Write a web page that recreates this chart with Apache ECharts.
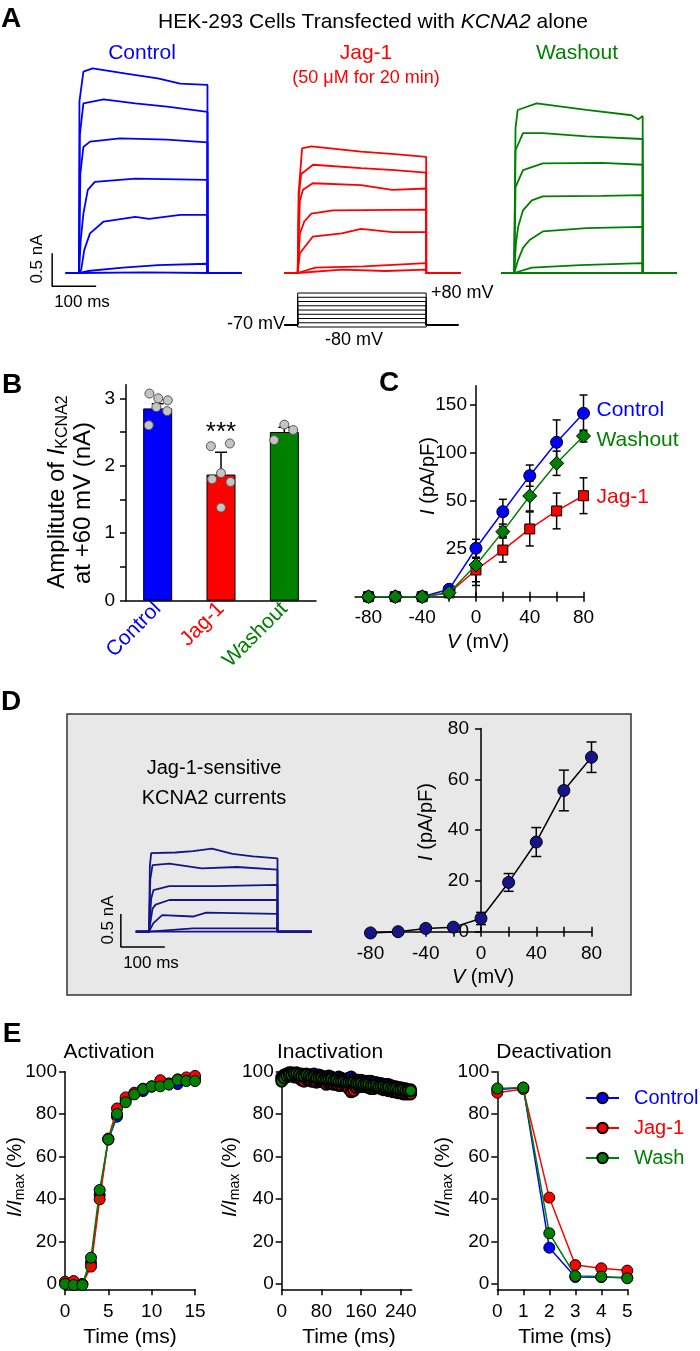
<!DOCTYPE html>
<html>
<head>
<meta charset="utf-8">
<script src="https://cdn.jsdelivr.net/npm/echarts@6.0.0/dist/echarts.min.js"></script>
<style>
html,body{margin:0;padding:0;background:#fff;}
#chart{width:700px;height:1351px;}
</style>
</head>
<body>
<div id="chart"></div>
<script>
/* ================= DATA ================= */
// Panel A / D : current traces, keypoints [time (ms), current (nA)] during the voltage step
const traceStart = -30, traceStop = 370, pulseEnd = 292;
const stepVoltages = [-80, -60, -40, -20, 0, 20, 40, 60, 80];
const holdingVoltage = -70;
const scaleBarAmp = 0.5;   // nA
const scaleBarTime = 100;  // ms

const tracesControl = [
  [[1, 2.6], [10, 3.05], [31, 3.1], [107, 3.02], [179, 2.95], [230, 2.87], [292, 2.85]],
  [[2, 2.1], [10, 2.57], [56, 2.63], [128, 2.57], [200, 2.52], [292, 2.44]],
  [[3, 1.5], [10, 1.91], [25, 1.99], [93, 2.04], [200, 2.02], [292, 1.98]],
  [[4, 0.5], [10, 0.9], [20, 1.26], [36, 1.38], [128, 1.43], [292, 1.41]],
  [[5, 0.05], [12, 0.35], [25, 0.6], [56, 0.78], [128, 0.85], [159, 0.82], [230, 0.88], [292, 0.88]],
  [[20, 0.03], [100, 0.08], [180, 0.12], [292, 0.14]],
  [[150, 0.01], [292, 0]]
];
const tracesJag = [
  [[2, 1.2], [10, 1.89], [31, 1.92], [144, 1.84], [220, 1.8], [292, 1.76]],
  [[3, 1.2], [8, 1.5], [35, 1.64], [144, 1.59], [220, 1.56], [292, 1.52]],
  [[5, 1.1], [12, 1.26], [34, 1.36], [144, 1.33], [215, 1.26], [292, 1.28]],
  [[5, 0.6], [15, 0.78], [31, 0.9], [80, 0.95], [292, 0.96]],
  [[5, 0.3], [34, 0.55], [100, 0.6], [144, 0.67], [215, 0.62], [292, 0.62]],
  [[40, 0.08], [150, 0.1], [292, 0.15]],
  [[100, 0.05], [200, 0.03], [292, 0.05]]
];
const tracesWash = [
  [[3, 2.2], [8, 2.47], [51, 2.57], [164, 2.47], [267, 2.39], [282, 2.33], [292, 2.38]],
  [[3, 1.86], [20, 2.12], [65, 2.12], [164, 2.07], [292, 2.03]],
  [[3, 1.3], [20, 1.56], [65, 1.66], [200, 1.67], [292, 1.64]],
  [[4, 0.45], [9, 0.7], [20, 0.95], [40, 1.1], [65, 1.16], [200, 1.17], [292, 1.18]],
  [[9, 0.2], [20, 0.38], [35, 0.5], [65, 0.63], [164, 0.68], [292, 0.7]],
  [[40, 0.08], [150, 0.12], [292, 0.15]],
  [[150, 0.0], [292, 0]]
];
const tracesSensitive = [
  [[2, 1.0], [5, 1.19], [60, 1.2], [100, 1.22], [143, 1.26], [190, 1.18], [236, 1.14], [292, 1.11]],
  [[3, 0.8], [8, 1.01], [46, 1.03], [120, 0.96], [200, 0.98], [292, 0.94]],
  [[5, 0.5], [10, 0.63], [46, 0.69], [150, 0.69], [292, 0.71]],
  [[8, 0.35], [15, 0.41], [46, 0.48], [150, 0.48], [292, 0.48]],
  [[10, 0.13], [30, 0.25], [100, 0.23], [130, 0.29], [292, 0.27]],
  [[100, 0.05], [292, 0.05]],
  [[150, 0.0], [292, 0]]
];

// Panel B : amplitude at +60 mV (nA)
const groups = ['Control', 'Jag-1', 'Washout'];
const ampMean = [2.85, 1.87, 2.50];
const ampSem = [0.07, 0.33, 0.07];
const ampCells = [
  [3.07, 3.0, 2.97, 2.87, 2.81, 2.60],
  [2.29, 2.33, 1.80, 1.89, 1.76, 1.38],
  [2.38, 2.61, 2.53]
];
const ampTicks = [0, 0.5, 1, 1.5, 2, 2.5, 3];
const ampTickLabels = [0, 1, 2, 3];

// Panel C : I-V (pA/pF)
const ivVoltage = [-80, -60, -40, -20, 0, 20, 40, 60, 80];
const ivControl = [0, 0, 0, 5.8, 37.9, 66.5, 94.7, 120.8, 143.5];
const ivControlSem = [0, 0, 0, 0, 7, 9.7, 8.3, 17.5, 14.3];
const ivWash = [0, 0, 0, 3.1, 24.8, 50.9, 78.8, 104.4, 125.7];
const ivWashSem = [0, 0, 0, 0, 16, 4, 11.7, 9.5, 4.6];
const ivJag = [0, 0, 0, 3.0, 20.9, 36.5, 53.0, 67.1, 79.0];
const ivJagSem = [0, 0, 0, 0, 9.2, 9.4, 13.3, 14, 14];
const ivSeriesNames = ['Control', 'Washout', 'Jag-1'];
const ivTickValues = [37.5, 75, 112.5, 150];
const ivTickLabels = ['25', '50', '100', '150'];
const vTicks = [-80, -60, -40, -20, 0, 20, 40, 60, 80];
const vLabels = [-80, -40, 0, 40, 80];

// Panel D : Jag-1-sensitive I-V (pA/pF)
const ivSensitive = [-0.5, 0, 1.3, 1.8, 5.2, 19.4, 35.3, 55.6, 68.7];
const ivSensitiveSem = [0, 0, 0, 0, 2.4, 3.5, 5.7, 8, 6];
const dTicksY = [0, 20, 40, 60, 80];

// Panel E : kinetics (% of Imax)
const actTime = [0, 1, 2, 3, 4, 5, 6, 7, 8, 9, 10, 11, 12, 13, 14, 15];
const actControl = [0.5, 0, 0, 10, 42, 68, 78.8, 86.5, 89.5, 90.9, 93, 94.5, 94, 94.2, 96, 96.5];
const actJag = [1.1, 1.4, 0, 8.2, 39.9, 68.5, 82.7, 87.9, 90.1, 92, 93, 96, 94.5, 96.4, 97.3, 98];
const actWash = [0, -0.5, -0.5, 12.4, 44.3, 68.1, 80.1, 85.6, 89.3, 91.8, 93.1, 93.1, 94, 96.1, 95.6, 95.6];
const actTicks = [0, 5, 10, 15];

const inactTime = [0, 5, 10, 15, 20, 25, 30, 35, 40, 45, 50, 55, 60, 65, 70, 75, 80, 85, 90, 95, 100, 105, 110, 115, 120, 125, 130,
  135, 140, 145, 150, 155, 160, 165, 170, 175, 180, 185, 190, 195, 200, 205, 210, 215, 220, 225, 230, 235, 240, 245, 250, 255, 260];
const inactControl = [97.5, 98.5, 99, 99.5, 99.5, 99, 99.5, 99, 99, 98.5, 99, 98.5, 98.5, 99, 98, 98.5, 98, 97.5, 97.5, 98, 97.5, 97, 97, 97.5, 97, 96.5, 96.5,
  97, 97.5, 96.5, 96, 96, 96, 95.5, 95.5, 95.5, 95.5, 95, 95, 94.5, 94.5, 94, 94, 94, 93.5, 93, 93, 92.5, 92.5, 92, 92, 91.5, 91.5];
const inactJag = [96.5, 97, 97.5, 98, 98, 97.5, 97.5, 97, 96, 95.5, 96.5, 96, 95.5, 95.5, 95, 95.5, 95.5, 95, 94, 94.5, 94.5, 94, 94, 93.5, 93.5, 94, 94,
  92, 90.5, 91, 92.5, 93, 93, 93, 93, 92.5, 92, 92, 92.5, 92.5, 92, 91.5, 91.5, 91, 91, 90.5, 90.5, 90, 90, 89.5, 89.5, 89.5, 89.5];
const inactWash = [95.5, 97, 98, 98.5, 98.5, 99, 99, 98.5, 98, 98, 98.5, 98, 97.5, 97.5, 97, 97, 97, 96.5, 96.5, 96.5, 96.5, 96, 96, 95.5, 95.5, 95.5, 95,
  95, 95, 95, 94.5, 94.5, 94.5, 94, 94, 94, 93.5, 93.5, 93.5, 93, 93, 93, 92.5, 92.5, 92, 92, 92, 91.5, 91.5, 91.5, 91, 91, 91];
const inactTicks = [0, 80, 160, 240];

const deactTime = [0, 1, 2, 3, 4, 5];
const deactControl = [91.5, 92.5, 17.1, 3.3, 3.2, 3.0];
const deactJag = [90.1, 91.8, 40.7, 8.9, 7.4, 6.3];
const deactWash = [92.1, 92.5, 23.9, 3.8, 3.5, 2.7];
const deactTicks = [0, 1, 2, 3, 4, 5];
const legendNames = ['Control', 'Jag-1', 'Wash'];
const eYTicks = [0, 20, 40, 60, 80, 100];

/* ================= STYLE / LAYOUT ================= */
const FONT = '"Liberation Sans", Arial, Helvetica, sans-serif';
const BLUE = '#0000ff', RED = '#ff0000', GREEN = '#008000', NAVY = '#15158a';
const condColors = [BLUE, RED, GREEN];
const AX = { color: '#000', width: 1.5 };
const dotOffsets = [
  [-0.13, 0.01, 0.16, -0.02, 0.15, -0.14],
  [-0.16, 0.14, -0.14, 0, 0.15, 0],
  [-0.16, 0, 0.14]
];

const grids = [], xAxes = [], yAxes = [], series = [], graphics = [];
function addGrid(left, top, width, height) { grids.push({ left, top, width, height }); return grids.length - 1; }
function addX(c) { xAxes.push(c); return xAxes.length - 1; }
function addY(c) { yAxes.push(c); return yAxes.length - 1; }

function buildTrace(kp) {
  return [[traceStart, 0], [0, 0]].concat(kp, [[pulseEnd, 0], [traceStop, 0]]);
}
function tracePanel(grid, xmin, ymin, ymax, traces, color) {
  const gi = addGrid(grid[0], grid[1], grid[2], grid[3]);
  const xi = addX({ gridIndex: gi, type: 'value', min: xmin, max: traceStop, show: false });
  const yi = addY({ gridIndex: gi, type: 'value', min: ymin, max: ymax, show: false });
  traces.forEach(kp => series.push({
    type: 'line', xAxisIndex: xi, yAxisIndex: yi, data: buildTrace(kp),
    symbol: 'none', lineStyle: { color, width: 1.8 }, silent: true, clip: false, z: 2
  }));
  return { xi, yi };
}
function scaleBar(ax, t0, i0) {
  series.push({
    type: 'line', xAxisIndex: ax.xi, yAxisIndex: ax.yi, symbol: 'none', clip: false, silent: true,
    data: [[t0, i0 + scaleBarAmp], [t0, i0], [t0 + scaleBarTime, i0]],
    lineStyle: { color: '#000', width: 1.5 }
  });
}
function errRender(capHalf, oneSided) {
  return function (params, api) {
    const x = api.value(0), m = api.value(1), e = api.value(2);
    if (!e) return null;
    const top = api.coord([x, m + e]);
    const bot = api.coord([x, oneSided ? m : m - e]);
    const st = { stroke: '#000', lineWidth: 1.5 };
    const ch = [
      { type: 'line', shape: { x1: top[0], y1: top[1], x2: bot[0], y2: bot[1] }, style: st },
      { type: 'line', shape: { x1: top[0] - capHalf, y1: top[1], x2: top[0] + capHalf, y2: top[1] }, style: st }
    ];
    if (!oneSided) ch.push({ type: 'line', shape: { x1: bot[0] - capHalf, y1: bot[1], x2: bot[0] + capHalf, y2: bot[1] }, style: st });
    return { type: 'group', children: ch };
  };
}
function txt(x, y, text, o) {
  o = o || {};
  const style = {
    text, fill: o.color || '#000', fontSize: o.size || 20, fontFamily: FONT,
    fontWeight: o.weight || 'normal', fontStyle: o.italic ? 'italic' : 'normal',
    align: o.align || 'center', verticalAlign: 'middle'
  };
  if (o.rich) style.rich = o.rich;
  graphics.push({ type: 'text', x, y, rotation: o.rot || 0, z: 100, style });
}
function richSet(size, subSize, lh) {
  return {
    n: { fontSize: size, fontFamily: FONT, lineHeight: lh, verticalAlign: 'middle', fill: '#000' },
    i: { fontSize: size, fontFamily: FONT, fontStyle: 'italic', lineHeight: lh, verticalAlign: 'middle', fill: '#000' },
    s: { fontSize: subSize, fontFamily: FONT, lineHeight: subSize, verticalAlign: 'bottom', fill: '#000' }
  };
}

/* ---------- Panel A ---------- */
const aCtrl = tracePanel([48.2, 61.8, 193.6, 227.7], -70, -0.25, 3.2, tracesControl, BLUE);
scaleBar(aCtrl, -61, -0.2);
tracePanel([284.5, 61.8, 176, 227.7], traceStart, -0.25, 3.2, tracesJag, RED);
tracePanel([501, 61.8, 176, 227.7], traceStart, -0.25, 3.2, tracesWash, GREEN);

// voltage protocol
(function () {
  const gi = addGrid(284.5, 290.9, 176, 38.25);
  const xi = addX({ gridIndex: gi, type: 'value', min: traceStart, max: traceStop, show: false });
  const yi = addY({ gridIndex: gi, type: 'value', min: -90, max: 90, show: false });
  stepVoltages.forEach(v => series.push({
    type: 'line', xAxisIndex: xi, yAxisIndex: yi, symbol: 'none', silent: true, clip: false,
    data: [[traceStart, holdingVoltage], [0, holdingVoltage], [0, v], [pulseEnd, v], [pulseEnd, holdingVoltage], [traceStop - 5, holdingVoltage]],
    lineStyle: { color: '#000', width: 1 }
  }));
})();

txt(11, 19, 'A', { size: 28, weight: 'bold' });
txt(373, 22, '{n|HEK-293 Cells Transfected with }{i|KCNA2}{n| alone}', { rich: richSet(21, 14, 24) });
txt(142, 53, 'Control', { color: BLUE, size: 21 });
txt(366, 53, 'Jag-1', { color: RED, size: 21 });
txt(366, 78, '(50 \u03bcM for 20 min)', { color: RED, size: 18 });
txt(577, 53, 'Washout', { color: GREEN, size: 21 });
txt(37, 259, '0.5 nA', { size: 17, rot: Math.PI / 2 });
txt(82, 302, '100 ms', { size: 17 });
txt(431, 293, '+80 mV', { size: 18, align: 'left' });
txt(285, 324, '-70 mV', { size: 18, align: 'right' });
txt(354, 340, '-80 mV', { size: 18 });

/* ---------- Panel B ---------- */
(function () {
  const gi = addGrid(126, 384.8, 190, 215.9);
  const xc = addX({
    gridIndex: gi, type: 'category', data: groups,
    axisLine: { show: true, lineStyle: AX }, axisTick: { show: false },
    axisLabel: { rotate: 45, fontSize: 21, margin: 5, color: (v) => condColors[groups.indexOf(v)] }
  });
  const xv = addX({ gridIndex: gi, type: 'value', min: -0.5, max: 2.5, show: false });
  const yi = addY({
    gridIndex: gi, type: 'value', min: 0, max: 3.2,
    axisLine: { show: true, onZero: false, lineStyle: AX },
    axisTick: { show: true, customValues: ampTicks, length: 6, lineStyle: AX },
    axisLabel: { customValues: ampTickLabels, fontSize: 19, margin: 11, color: '#000' },
    splitLine: { show: false }
  });
  series.push({
    type: 'bar', xAxisIndex: xc, yAxisIndex: yi, barWidth: 29, z: 2,
    data: ampMean.map((v, i) => ({ value: v, itemStyle: { color: condColors[i], borderColor: '#000', borderWidth: 1 } }))
  });
  series.push({
    type: 'custom', xAxisIndex: xv, yAxisIndex: yi, z: 3, clip: false,
    renderItem: errRender(6, true), encode: { x: 0, y: 1 },
    data: ampMean.map((v, i) => [i, v, ampSem[i]])
  });
  const dots = [];
  ampCells.forEach((arr, g) => arr.forEach((v, k) => dots.push([g + dotOffsets[g][k], v])));
  series.push({
    type: 'scatter', xAxisIndex: xv, yAxisIndex: yi, z: 4, symbolSize: 9, data: dots,
    itemStyle: { color: '#c4c4c4', borderColor: '#555', borderWidth: 1, opacity: 1 }
  });
})();
txt(12, 385, 'B', { size: 28, weight: 'bold' });
txt(57, 492, '{n|Amplitute of }{i|I}{s|KCNA2}', { rot: Math.PI / 2, rich: richSet(24, 16, 28) });
txt(83, 503, 'at +60 mV (nA)', { size: 24, rot: Math.PI / 2 });
txt(221, 433, '***', { size: 26 });

/* ---------- Panel C ---------- */
(function () {
  const gl = 355, gw = 228.5, xmin = -90, xmax = 80;
  const gi = addGrid(gl, 385.8, gw, 210.9);
  const xi = addX({
    gridIndex: gi, type: 'value', min: xmin, max: xmax,
    axisLine: { show: true, onZero: false, lineStyle: AX },
    axisTick: { show: true, customValues: vTicks, length: 5, lineStyle: AX },
    axisLabel: { customValues: vLabels, fontSize: 19, margin: 12, color: '#000' },
    splitLine: { show: false }
  });
  addX({
    gridIndex: gi, type: 'value', min: xmin, max: xmax, position: 'bottom',
    axisLine: { show: false, onZero: false }, axisLabel: { show: false }, splitLine: { show: false },
    axisTick: { show: true, inside: true, customValues: vTicks, length: 5, lineStyle: AX }
  });
  const yi = addY({
    gridIndex: gi, type: 'value', min: 0, max: 165,
    offset: -(0 - xmin) / (xmax - xmin) * gw,
    axisLine: { show: true, onZero: false, lineStyle: AX },
    axisTick: { show: true, customValues: ivTickValues, length: 6, lineStyle: AX },
    axisLabel: { customValues: ivTickValues, fontSize: 19, margin: 9, color: '#000',
      formatter: v => ivTickLabels[ivTickValues.indexOf(v)] },
    splitLine: { show: false }
  });
  const sets = [
    { name: ivSeriesNames[2], d: ivJag, e: ivJagSem, c: RED, sym: 'rect', size: 10, z: 3, off: [0, 1] },
    { name: ivSeriesNames[0], d: ivControl, e: ivControlSem, c: BLUE, sym: 'circle', size: 12, z: 4, off: [0, -3] },
    { name: ivSeriesNames[1], d: ivWash, e: ivWashSem, c: GREEN, sym: 'diamond', size: 14, z: 5, off: [0, 4] }
  ];
  sets.forEach(s => series.push({
    type: 'custom', xAxisIndex: xi, yAxisIndex: yi, z: 2, clip: false,
    renderItem: errRender(4, false), encode: { x: 0, y: 1 },
    data: ivVoltage.map((v, i) => [v, s.d[i], s.e[i]])
  }));
  sets.forEach(s => series.push({
    type: 'line', name: 'iv-' + s.name, xAxisIndex: xi, yAxisIndex: yi, z: s.z, clip: false,
    data: ivVoltage.map((v, i) => [v, s.d[i]]),
    symbol: s.sym, symbolSize: s.size, showAllSymbol: true,
    itemStyle: { color: s.c, borderColor: '#000', borderWidth: 1 },
    lineStyle: { color: s.c, width: 1.5 },
    endLabel: { show: true, formatter: () => s.name, color: s.c, fontSize: 21, distance: 13, offset: s.off }
  }));
})();
txt(389, 383, 'C', { size: 28, weight: 'bold' });
txt(428, 476, '{i|I}{n| (pA/pF)}', { rot: Math.PI / 2, rich: richSet(20, 14, 24) });
txt(478, 642, '{i|V}{n| (mV)}', { rich: richSet(20, 14, 24) });

/* ---------- Panel D ---------- */
graphics.push({ type: 'rect', z: -1, shape: { x: 67, y: 714, width: 564, height: 281 },
  style: { fill: '#e8e8e8', stroke: '#333', lineWidth: 1.5 } });
const dTr = tracePanel([118.2, 832.7, 193.6, 118.8], -70, -0.3, 1.5, tracesSensitive, NAVY);
scaleBar(dTr, -64, -0.23);
(function () {
  const gl = 370.5, gw = 221, xmin = -80, xmax = 80;
  const gi = addGrid(gl, 728.5, gw, 203.2);
  const xi = addX({
    gridIndex: gi, type: 'value', min: xmin, max: xmax,
    axisLine: { show: true, onZero: false, lineStyle: AX },
    axisTick: { show: true, customValues: vTicks, length: 5, lineStyle: AX },
    axisLabel: { customValues: vLabels, fontSize: 19, margin: 13, color: '#000' },
    splitLine: { show: false }
  });
  addX({
    gridIndex: gi, type: 'value', min: xmin, max: xmax, position: 'bottom',
    axisLine: { show: false, onZero: false }, axisLabel: { show: false }, splitLine: { show: false },
    axisTick: { show: true, inside: true, customValues: vTicks, length: 5, lineStyle: AX }
  });
  const yi = addY({
    gridIndex: gi, type: 'value', min: 0, max: 80,
    offset: -(0 - xmin) / (xmax - xmin) * gw,
    axisLine: { show: true, onZero: false, lineStyle: AX },
    axisTick: { show: true, customValues: dTicksY, length: 6, lineStyle: AX },
    axisLabel: { customValues: dTicksY, fontSize: 19, margin: 12, color: '#000' },
    splitLine: { show: false }
  });
  series.push({
    type: 'custom', xAxisIndex: xi, yAxisIndex: yi, z: 2, clip: false,
    renderItem: errRender(5, false), encode: { x: 0, y: 1 },
    data: ivVoltage.map((v, i) => [v, ivSensitive[i], ivSensitiveSem[i]])
  });
  series.push({
    type: 'line', name: 'sens', xAxisIndex: xi, yAxisIndex: yi, z: 3, clip: false,
    data: ivVoltage.map((v, i) => [v, ivSensitive[i]]),
    symbol: 'circle', symbolSize: 12, showAllSymbol: true,
    itemStyle: { color: NAVY, borderColor: '#000', borderWidth: 1 },
    lineStyle: { color: '#000', width: 1.5 }
  });
})();
txt(11, 702, 'D', { size: 28, weight: 'bold' });
txt(214, 768, 'Jag-1-sensitive', { size: 20 });
txt(214, 798, 'KCNA2 currents', { size: 20 });
txt(108, 920, '0.5 nA', { size: 17, rot: Math.PI / 2 });
txt(151, 963, '100 ms', { size: 17 });
txt(426, 822, '{i|I}{n| (pA/pF)}', { rot: Math.PI / 2, rich: richSet(20, 14, 24) });
txt(483, 977, '{i|V}{n| (mV)}', { rich: richSet(20, 14, 24) });

/* ---------- Panel E ---------- */
function ePanel(left, xmax, ticks, time, sets, prefix, border) {
  const gi = addGrid(left, 1071.7, 130, 217.6);
  const xi = addX({
    gridIndex: gi, type: 'value', min: 0, max: xmax,
    axisLine: { show: true, onZero: false, lineStyle: AX },
    axisTick: { show: true, customValues: ticks, length: 6, lineStyle: AX },
    axisLabel: { customValues: ticks, fontSize: 19, margin: 13, color: '#000' },
    splitLine: { show: false }
  });
  const yi = addY({
    gridIndex: gi, type: 'value', min: -2.5, max: 100,
    axisLine: { show: true, onZero: false, lineStyle: AX },
    axisTick: { show: true, customValues: eYTicks, length: 6, lineStyle: AX },
    axisLabel: { customValues: eYTicks, fontSize: 19, margin: 8, color: '#000' },
    splitLine: { show: false }
  });
  sets.forEach((d, k) => series.push({
    type: 'line', name: prefix ? prefix + legendNames[k] : legendNames[k],
    xAxisIndex: xi, yAxisIndex: yi, z: 3 + k, clip: false,
    data: time.map((t, i) => [t, d[i]]),
    symbol: 'circle', symbolSize: 11, showAllSymbol: true,
    itemStyle: { color: condColors[k], borderColor: '#000', borderWidth: border },
    lineStyle: { color: condColors[k], width: 1.5 }
  }));
}
ePanel(65, 15, actTicks, actTime, [actControl, actJag, actWash], 'act-', 1);
ePanel(281.7, 262, inactTicks, inactTime, [inactControl, inactJag, inactWash], 'inact-', 1.8);
ePanel(497.3, 5, deactTicks, deactTime, [deactControl, deactJag, deactWash], '', 1);

txt(12, 1034, 'E', { size: 28, weight: 'bold' });
txt(109, 1052, 'Activation', { size: 21 });
txt(330, 1052, 'Inactivation', { size: 21 });
txt(554, 1052, 'Deactivation', { size: 21 });
[15, 230, 443].forEach(x => txt(x, 1177, '{i|I/I}{s|max}{n| (%)}', { rot: Math.PI / 2, rich: richSet(20, 14, 24) }));
[130, 349, 565].forEach(x => txt(x, 1337, 'Time (ms)', { size: 21 }));

/* ================= CHART ================= */
const chart = echarts.init(document.getElementById('chart'), null, { renderer: 'canvas' });
chart.setOption({
  animation: false,
  backgroundColor: '#ffffff',
  textStyle: { fontFamily: FONT },
  grid: grids,
  xAxis: xAxes,
  yAxis: yAxes,
  series: series,
  legend: {
    orient: 'vertical', left: 580, top: 1083, itemWidth: 33, itemHeight: 13, itemGap: 10,
    selectedMode: false,
    textStyle: { fontSize: 20, fontFamily: FONT, padding: [0, 0, 0, 10] },
    data: legendNames.map((n, i) => ({ name: n, textStyle: { color: condColors[i] } }))
  },
  graphic: { elements: graphics }
});
</script>
</body>
</html>
